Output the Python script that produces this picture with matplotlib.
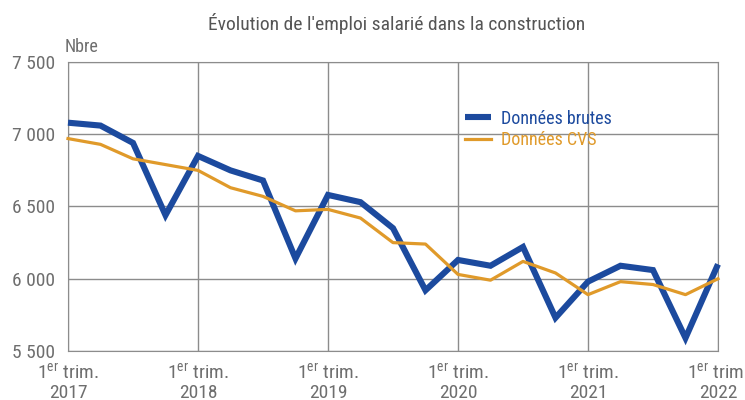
import numpy as np
import matplotlib.pyplot as plt

plt.rcParams['font.family'] = ['Roboto Condensed', 'DejaVu Sans']
plt.rcParams['mathtext.fontset'] = 'custom'
plt.rcParams['mathtext.rm'] = 'Roboto Condensed'

years = ['2017', '2018', '2019', '2020', '2021', '2022']
brutes = [7080, 7060, 6940, 6440, 6850, 6750, 6680, 6140, 6580, 6530, 6350,
          5920, 6130, 6090, 6220, 5730, 5980, 6090, 6060, 5590, 6100]
cvs = [6970, 6930, 6830, 6790, 6750, 6630, 6570, 6470, 6480, 6420, 6250,
       6240, 6030, 5990, 6120, 6040, 5890, 5980, 5960, 5890, 6000]

blue = '#1C4A9E'
orange = '#E09A2A'
grey = '#6e6e6e'

x = np.arange(len(brutes))
fig = plt.figure(figsize=(7.45, 4), dpi=100)
ax = fig.add_axes([68/745, 1-351/400, 650/745, 289/400])

ax.plot(x, brutes, color=blue, lw=4.4, label='Données brutes', zorder=3,
        solid_joinstyle='miter', solid_capstyle='butt', clip_on=False)
ax.plot(x, cvs, color=orange, lw=2.3, label='Données CVS', zorder=4, clip_on=False)

ax.set_xlim(0, 20)
ax.set_ylim(5500, 7500)
ax.set_yticks(np.arange(5500, 7501, 500))
ax.set_yticklabels([f'{v:,}'.replace(',', ' ') for v in range(5500, 7501, 500)])
ax.set_xticks(np.arange(0, 21, 4))
ax.set_xticklabels(['1$^{\\mathrm{er}}$ trim.\n' + y for y in years], linespacing=1.05)
ax.tick_params(length=0, labelsize=14, colors=grey, pad=9)
ax.tick_params(axis='x', pad=8)
ax.grid(True, color='#8c8c8c', lw=1)
ax.set_axisbelow(True)
for s in ax.spines.values():
    s.set_color('#8c8c8c')

ax.text(-0.005, 1.02, 'Nbre', transform=ax.transAxes, fontsize=13, color=grey,
        va='bottom', ha='left')
fig.text(0.533, 0.942, "Évolution de l'emploi salarié dans la construction",
         ha='center', va='center', fontsize=14, color='#555555')

ax.legend(loc='upper left', bbox_to_anchor=(0.6, 0.86), frameon=False,
          labelcolor='linecolor', fontsize=13, handlelength=1.4,
          handletextpad=0.6, labelspacing=0.2, borderaxespad=0)

fig.savefig('out.png', dpi=100)
